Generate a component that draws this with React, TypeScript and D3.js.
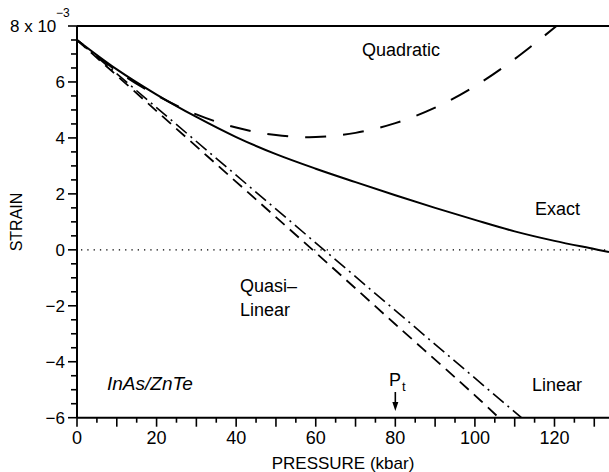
import React, { useEffect } from "react";
import * as d3 from "d3";

// ---- data ----
const pressureTicks = [0, 20, 40, 60, 80, 100, 120];
const strainTicks = [-6, -4, -2, 0, 2, 4, 6];

const exactP = [0, 10, 20, 30, 40, 50, 60, 70, 80, 90, 100, 110, 120, 130, 133.7];
const exactS = [7.5, 6.45, 5.55, 4.75, 4.03, 3.42, 2.9, 2.42, 1.95, 1.5, 1.07, 0.66, 0.32, 0.03, -0.08];

const quadP = [0, 10, 20, 30, 40, 50, 60, 70, 80, 90, 100, 110, 120.5];
const quadS = [7.5, 6.4, 5.52, 4.84, 4.37, 4.1, 4.03, 4.18, 4.53, 5.08, 5.85, 6.82, 8.0];

const quasiP = [0, 20, 40, 60, 80, 100, 106];
const quasiS = [7.5, 4.96, 2.43, -0.1, -2.66, -5.2, -6.0];

const linearP = [0, 111.7];
const linearS = [7.5, -6.0];

const W = 609;
const H = 472;
const FONT = "'Liberation Sans', Arial, Helvetica, sans-serif";

export default function App() {
  useEffect(() => {
    document.body.style.margin = "0";
  }, []);

  const x = d3.scaleLinear().domain([0, 133.7]).range([77, 609]);
  const y = d3.scaleLinear().domain([-6, 8]).range([417.7, 26]);

  const toPts = (p: number[], s: number[]) => p.map((v, i) => [v, s[i]] as [number, number]);
  const smooth = d3
    .line<[number, number]>()
    .x((d) => x(d[0]))
    .y((d) => y(d[1]))
    .curve(d3.curveCatmullRom.alpha(0.5));

  const xMinor = d3.range(0, 135, 5);
  const yMinor = d3.range(-6, 8.01, 0.5);

  const x0 = x(0);
  const yBottom = y(-6);
  const yTop = y(8);

  // draw the quadratic from its top end so the dash pattern reaches the frame
  const quadPts = toPts(quadP, quadS).slice().reverse();

  return (
    <svg
      width={W}
      height={H}
      style={{ display: "block", background: "#fff", position: "absolute", left: 0, top: 0 }}
      fontFamily={FONT}
    >
      <defs>
        <clipPath id="plot">
          <rect x={x0} y={yTop - 1} width={W - x0} height={yBottom - yTop + 1} />
        </clipPath>
      </defs>

      {/* zero dotted line */}
      <line
        x1={x0 + 4}
        x2={W}
        y1={y(0)}
        y2={y(0)}
        stroke="#000"
        strokeWidth={1.3}
        strokeDasharray="1.3,5"
      />

      <g clipPath="url(#plot)" fill="none" stroke="#000" strokeWidth={2}>
        <path d={smooth(toPts(exactP, exactS)) || ""} />
        <path d={smooth(quadPts) || ""} strokeDasharray="21,17" strokeDashoffset={6} />
        <path d={smooth(toPts(quasiP, quasiS)) || ""} strokeDasharray="12,7" strokeWidth={1.8} />
        <path d={smooth(toPts(linearP, linearS)) || ""} strokeDasharray="14,5,2,5" strokeWidth={1.6} />
      </g>

      {/* frame */}
      <line x1={x0} x2={W} y1={yTop} y2={yTop} stroke="#000" strokeWidth={2} />
      <line x1={x0} x2={W} y1={yBottom} y2={yBottom} stroke="#000" strokeWidth={2} />
      <line x1={x0} x2={x0} y1={yTop} y2={yBottom} stroke="#000" strokeWidth={2} />

      {/* x ticks */}
      {xMinor.map((v) => (
        <line
          key={"xt" + v}
          x1={x(v)}
          x2={x(v)}
          y1={yBottom}
          y2={yBottom + (v % 10 === 0 ? 9 : 5)}
          stroke="#000"
          strokeWidth={1.6}
        />
      ))}
      {pressureTicks.map((v) => (
        <text key={"xl" + v} x={x(v)} y={444} textAnchor="middle" fontSize={18}>
          {v}
        </text>
      ))}

      {/* y ticks */}
      {yMinor.map((v) => (
        <line
          key={"yt" + v}
          x1={x0}
          x2={x0 - (Math.abs(v % 2) < 1e-6 ? 9 : 6)}
          y1={y(v)}
          y2={y(v)}
          stroke="#000"
          strokeWidth={1.6}
        />
      ))}
      {strainTicks.map((v) => (
        <text key={"yl" + v} x={65} y={y(v) + 6} textAnchor="end" fontSize={17}>
          {v < 0 ? "\u2212" + Math.abs(v) : String(v)}
        </text>
      ))}
      <text x={10} y={y(8) + 6} fontSize={17}>
        8 x 10
      </text>
      <text x={56} y={y(8) - 9} fontSize={12}>
        {"\u22123"}
      </text>

      {/* axis titles */}
      <text x={343} y={469} textAnchor="middle" fontSize={17}>
        PRESSURE (kbar)
      </text>
      <text
        transform={`translate(22,222) rotate(-90)`}
        textAnchor="middle"
        fontSize={16}
      >
        STRAIN
      </text>

      {/* curve labels */}
      <text x={362} y={56} fontSize={18}>Quadratic</text>
      <text x={535} y={215} fontSize={18}>Exact</text>
      <text x={240} y={292} fontSize={18}>{"Quasi\u2013"}</text>
      <text x={240} y={316} fontSize={18}>Linear</text>
      <text x={532} y={391} fontSize={18}>Linear</text>
      <text x={107} y={390} fontSize={19} fontStyle="italic">InAs/ZnTe</text>

      {/* Pt marker */}
      <text x={389} y={386} fontSize={18}>P</text>
      <text x={402} y={391} fontSize={13}>t</text>
      <line x1={x(80)} x2={x(80)} y1={392} y2={404} stroke="#000" strokeWidth={1.6} />
      <path
        d={`M${x(80) - 3},${402} L${x(80) + 3},${402} L${x(80)},${411} Z`}
        fill="#000"
      />
    </svg>
  );
}
